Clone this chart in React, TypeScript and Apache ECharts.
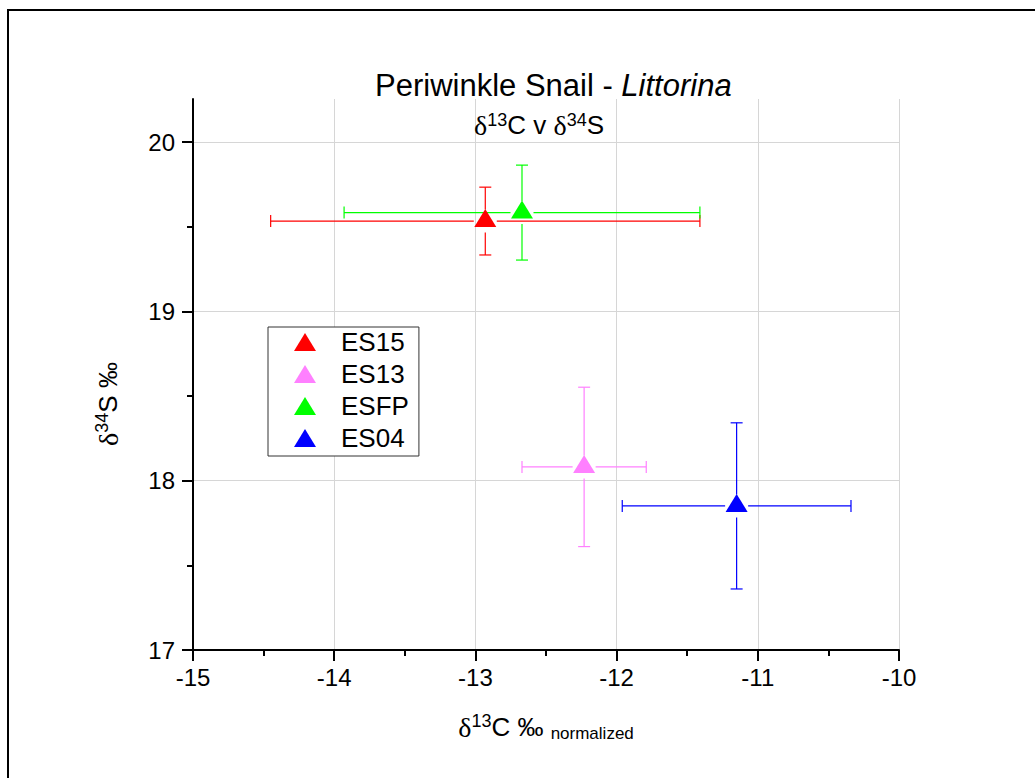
import React, { useEffect, useRef } from "react";
import * as echarts from "echarts";

const sites = ["ES15", "ES13", "ESFP", "ES04"];
const siteColors = ["#ff0000", "#ff80ff", "#00ff00", "#0000ff"];
const d13C = [-12.93, -12.23, -12.67, -11.15];
const d34S = [19.53, 18.08, 19.58, 17.85];
const d13CErr = [1.52, 0.44, 1.26, 0.81];
const d34SErr = [0.2, 0.47, 0.28, 0.49];

const xMin = -15;
const xMax = -10;
const yMin = 17;
const yMax = 20;
const yAxisTop = 20.25;

const FONT = "'Liberation Sans', Arial, sans-serif";
const SERIF = "'Liberation Serif', 'Times New Roman', serif";

function renderErrorBar(params: any, api: any) {
  const x = api.value(0);
  const y = api.value(1);
  const ex = api.value(2);
  const ey = api.value(3);
  const c = api.coord([x, y]);
  const l = api.coord([x - ex, y]);
  const r = api.coord([x + ex, y]);
  const t = api.coord([x, y + ey]);
  const b = api.coord([x, y - ey]);
  const gap = 11.5;
  const cap = 6;
  const color = api.visual("color");
  const style = { stroke: color, lineWidth: 1.2 };
  const seg = (x1: number, y1: number, x2: number, y2: number) => ({
    type: "line",
    shape: { x1, y1, x2, y2 },
    style,
  });
  return {
    type: "group",
    children: [
      seg(l[0], c[1], c[0] - gap, c[1]),
      seg(c[0] + gap, c[1], r[0], c[1]),
      seg(c[0], t[1], c[0], c[1] - gap),
      seg(c[0], c[1] + gap, c[0], b[1]),
      seg(l[0], c[1] - cap, l[0], c[1] + cap),
      seg(r[0], c[1] - cap, r[0], c[1] + cap),
      seg(c[0] - cap, t[1], c[0] + cap, t[1]),
      seg(c[0] - cap, b[1], c[0] + cap, b[1]),
    ],
  };
}

export default function App() {
  const ref = useRef<HTMLDivElement>(null);
  useEffect(() => {
    if (!ref.current) return;
    const chart = echarts.init(ref.current, null, { renderer: "svg" });
    const series: any[] = [];
    sites.forEach((name, i) => {
      series.push({
        type: "custom",
        name,
        xAxisIndex: 0,
        yAxisIndex: 0,
        renderItem: renderErrorBar,
        itemStyle: { color: siteColors[i] },
        encode: { x: 0, y: 1 },
        data: [[d13C[i], d34S[i], d13CErr[i], d34SErr[i]]],
        z: 2,
        silent: true,
      });
    });
    sites.forEach((name, i) => {
      series.push({
        type: "scatter",
        name,
        xAxisIndex: 0,
        yAxisIndex: 0,
        symbol: "triangle",
        symbolSize: [22, 18],
        symbolOffset: [0, -3],
        itemStyle: { color: siteColors[i], opacity: 1 },
        data: [[d13C[i], d34S[i]]],
        z: 3,
      });
    });
    const tickStyle = { color: "#000", width: 2 };
    const nameRich = {
      d: { fontFamily: SERIF, fontSize: 28, lineHeight: 30, color: "#000" },
      n: { fontFamily: FONT, fontSize: 26, lineHeight: 30, color: "#000" },
      s: { fontFamily: FONT, fontSize: 18, lineHeight: 10, verticalAlign: "top", color: "#000" },
      b: { fontFamily: FONT, fontSize: 17, lineHeight: 11, verticalAlign: "bottom", color: "#000" },
    };
    chart.setOption({
      animation: false,
      backgroundColor: "#fff",
      textStyle: { fontFamily: FONT },
      title: [
        {
          text: "Periwinkle Snail - {i|Littorina}",
          left: 375,
          top: 70,
          padding: 0,
          textStyle: {
            fontFamily: FONT,
            fontSize: 31,
            fontWeight: "normal",
            color: "#000",
            rich: {
              i: { fontFamily: FONT, fontSize: 31, fontStyle: "italic", color: "#000" },
            },
          },
        },
        {
          text: "{d|δ}{s|13}{n|C v }{d|δ}{s|34}{n|S}",
          left: 474,
          top: 111,
          padding: 0,
          textStyle: {
            fontFamily: FONT,
            fontSize: 26,
            fontWeight: "normal",
            color: "#000",
            rich: {
              d: { fontFamily: SERIF, fontSize: 28, lineHeight: 28, color: "#000" },
              n: { fontFamily: FONT, fontSize: 26, lineHeight: 28, color: "#000" },
              s: { fontFamily: FONT, fontSize: 18, lineHeight: 10, verticalAlign: "top", color: "#000" },
            },
          },
        },
      ],
      legend: {
        orient: "vertical",
        left: 268,
        top: 327,
        padding: [2, 10, 5, 26],
        itemGap: 6,
        itemWidth: 22,
        itemHeight: 18,
        symbolKeepAspect: false,
        borderColor: "#333",
        borderWidth: 1,
        backgroundColor: "#fff",
        textStyle: { fontFamily: FONT, fontSize: 26, color: "#000", padding: [0, 0, 0, 20] },
        data: sites.map((n) => ({ name: n, icon: "triangle" })),
      },
      grid: [
        { left: 193, right: 136, top: 99, bottom: 128 },
        { left: 193, right: 136, top: 142, bottom: 128 },
      ],
      xAxis: [
        {
          type: "value",
          gridIndex: 0,
          min: xMin,
          max: xMax,
          interval: 1,
          name: "{d|δ}{s|13}{n|C ‰ }{b|normalized}",
          nameLocation: "middle",
          nameGap: 62,
          nameTextStyle: { fontFamily: FONT, color: "#000", rich: nameRich },
          axisLine: { show: true, onZero: false, lineStyle: tickStyle },
          axisTick: { show: true, inside: false, length: 11, lineStyle: tickStyle },
          minorTick: { show: true, splitNumber: 2, length: 6, lineStyle: tickStyle },
          axisLabel: { fontFamily: FONT, fontSize: 24, color: "#000", margin: 15 },
          splitLine: { show: true, lineStyle: { color: "#d6d6d6", width: 1 } },
        },
        {
          type: "value",
          gridIndex: 1,
          min: xMin,
          max: xMax,
          interval: 1,
          show: false,
        },
      ],
      yAxis: [
        {
          type: "value",
          gridIndex: 0,
          min: yMin,
          max: yAxisTop,
          axisLine: { show: true, onZero: false, lineStyle: tickStyle },
          axisTick: { show: false },
          axisLabel: { show: false },
          splitLine: { show: false },
        },
        {
          type: "value",
          gridIndex: 1,
          min: yMin,
          max: yMax,
          interval: 1,
          name: "{d|δ}{s|34}{n|S ‰}",
          nameLocation: "middle",
          nameRotate: 90,
          nameGap: 70,
          nameTextStyle: {
            fontFamily: FONT,
            color: "#000",
            padding: [0, 16, 0, 0],
            rich: nameRich,
          },
          axisLine: { show: false, onZero: false },
          axisTick: { show: true, inside: false, length: 11, lineStyle: tickStyle },
          minorTick: { show: true, splitNumber: 2, length: 6, lineStyle: tickStyle },
          axisLabel: { fontFamily: FONT, fontSize: 24, color: "#000", margin: 18 },
          splitLine: { show: true, lineStyle: { color: "#d6d6d6", width: 1 } },
        },
      ],
      graphic: [
        {
          type: "rect",
          shape: { x: 8, y: 10, width: 2000, height: 2000 },
          style: { fill: "none", stroke: "#000", lineWidth: 2 },
          silent: true,
          z: 100,
        },
      ],
      series,
    });
    return () => chart.dispose();
  }, []);
  return (
    <div
      ref={ref}
      style={{ position: "absolute", left: 0, top: 0, width: 1035, height: 778 }}
    />
  );
}
